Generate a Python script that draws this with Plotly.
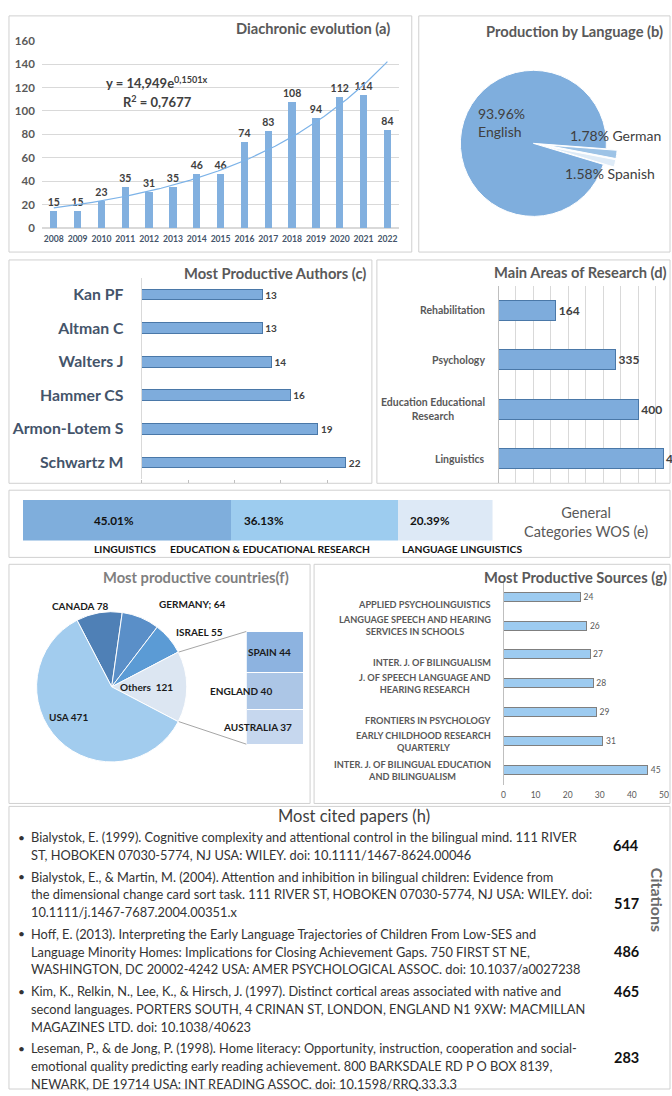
import numpy as np
import plotly.graph_objects as go

W, H = 672, 1096
FONT = "Lato, 'Open Sans', sans-serif"

# ---------------- data ----------------
years = list(range(2008, 2023))
publications = [15, 15, 23, 35, 31, 35, 46, 46, 74, 83, 108, 94, 112, 114, 84]
trend_coef = 14.949
trend_exp = 0.1501
trend_r2 = 0.7677

languages = ["German", "Spanish", "English"]
language_pct = [1.78, 1.58, 93.96]

authors = ["Kan PF", "Altman C", "Walters J", "Hammer CS", "Armon-Lotem S", "Schwartz M"]
author_docs = [13, 13, 14, 16, 19, 22]

areas = ["Rehabilitation", "Psychology", "Education Educational<br>Research", "Linguistics"]
area_docs = [164, 335, 400, 471]

wos_categories = ["LINGUISTICS", "EDUCATION & EDUCATIONAL RESEARCH", "LANGUAGE LINGUISTICS"]
wos_pct = [45.01, 36.13, 20.39]

countries = ["CANADA", "GERMANY", "ISRAEL", "Others", "USA"]
country_docs = [78, 64, 55, 121, 471]
country_labels = ["CANADA 78", "GERMANY; 64", "ISRAEL 55", "Others\u00a0 121", "USA 471"]
other_countries = ["AUSTRALIA", "ENGLAND", "SPAIN"]
other_docs = [37, 40, 44]

sources = ["APPLIED PSYCHOLINGUISTICS",
           "LANGUAGE SPEECH AND HEARING<br>SERVICES IN SCHOOLS",
           "INTER. J. OF BILINGUALISM",
           "J. OF SPEECH LANGUAGE AND<br>HEARING RESEARCH",
           "FRONTIERS IN PSYCHOLOGY",
           "EARLY CHILDHOOD RESEARCH<br>QUARTERLY",
           "INTER. J. OF BILINGUAL EDUCATION<br>AND BILINGUALISM"]
source_docs = [24, 26, 27, 28, 29, 31, 45]

papers = [
    ["Bialystok, E. (1999). Cognitive complexity and attentional control in the bilingual mind. 111 RIVER",
     "ST, HOBOKEN 07030-5774, NJ USA: WILEY. doi: 10.1111/1467-8624.00046"],
    ["Bialystok, E., & Martin, M. (2004). Attention and inhibition in bilingual children: Evidence from",
     "the dimensional change card sort task. 111 RIVER ST, HOBOKEN 07030-5774, NJ USA: WILEY. doi:",
     "10.1111/j.1467-7687.2004.00351.x"],
    ["Hoff, E. (2013). Interpreting the Early Language Trajectories of Children From Low-SES and",
     "Language Minority Homes: Implications for Closing Achievement Gaps. 750 FIRST ST NE,",
     "WASHINGTON, DC 20002-4242 USA: AMER PSYCHOLOGICAL ASSOC. doi: 10.1037/a0027238"],
    ["Kim, K., Relkin, N., Lee, K., & Hirsch, J. (1997). Distinct cortical areas associated with native and",
     "second languages. PORTERS SOUTH, 4 CRINAN ST, LONDON, ENGLAND N1 9XW: MACMILLAN",
     "MAGAZINES LTD. doi: 10.1038/40623"],
    ["Leseman, P., & de Jong, P. (1998). Home literacy: Opportunity, instruction, cooperation and social-",
     "emotional quality predicting early reading achievement. 800 BARKSDALE RD P O BOX 8139,",
     "NEWARK, DE 19714 USA: INT READING ASSOC. doi: 10.1598/RRQ.33.3.3"],
]
citations = [644, 517, 486, 465, 283]
citation_line = [0.5, 1.5, 1, 0, 0.5]   # which text line the number sits beside


# ---------------- helpers ----------------
def X(px):
    return px / W


def Y(py):
    return 1 - py / H


def xdom(a, b):
    return [a / W, b / W]


def ydom(top, bottom):
    return [1 - bottom / H, 1 - top / H]


def fnt(size, color="#595959", bold=False):
    return dict(family=FONT, size=size, color=color, weight="bold" if bold else "normal")


ann = []
shapes = []
TITLE = 14.7


def text(x, y, s, size, color="#595959", bold=False, xanchor="center", align="center", **kw):
    ann.append(dict(x=X(x), y=Y(y), xref="paper", yref="paper", text=s, showarrow=False,
                    font=fnt(size, color, bold), xanchor=xanchor, yanchor="middle", align=align, **kw))


fig = go.Figure()

# panel boxes
for x0, y0, x1, y1 in [(7, 9, 411, 248), (418, 9, 670, 248), (7, 256, 371, 482), (376, 256, 670, 482),
                       (7, 489, 670, 557), (7, 564, 309, 806), (313, 564, 670, 806), (7, 809, 670, 1095)]:
    shapes.append(dict(type="rect", xref="paper", yref="paper", x0=X(x0), x1=X(x1), y0=Y(y1), y1=Y(y0),
                       line=dict(color="#D0D0D0", width=1), layer="below"))

# ---------------- (a) Diachronic evolution ----------------
fig.add_trace(go.Bar(x=years, y=publications, width=0.31, marker=dict(color="#82B0DF", line=dict(width=0)),
                     text=publications, textposition="outside", constraintext="none",
                     textfont=fnt(10.5, "#404040", True), cliponaxis=False, xaxis="x", yaxis="y"))
t = np.linspace(1, len(years), 200)
fig.add_trace(go.Scatter(x=years[0] - 1 + t, y=trend_coef * np.exp(trend_exp * t), mode="lines",
                         line=dict(color="#7DB3E8", width=1.2), xaxis="x", yaxis="y"))
eq = "y = {}e<sup>{}x</sup>".format(f"{trend_coef:.3f}".replace(".", ","), f"{trend_exp:.4f}".replace(".", ","))
r2 = "R<sup>2</sup> = {}".format(f"{trend_r2:.4f}".replace(".", ","))
ann.append(dict(x=2012.35, y=124, xref="x", yref="y", text=eq, showarrow=False, font=fnt(13, "#404040", True)))
ann.append(dict(x=2012.35, y=108, xref="x", yref="y", text=r2, showarrow=False, font=fnt(13, "#404040", True)))
text(312, 21, "Diachronic evolution (a)", TITLE, bold=True)

# ---------------- (b) Production by language ----------------
pc_b = (533, 138)
half_b = 85
fig.add_trace(go.Pie(labels=languages, values=language_pct, sort=False, direction="clockwise", rotation=94.3,
                     pull=[0.15, 0.15, 0], textinfo="none", hoverinfo="label+percent",
                     marker=dict(colors=["#9DC3E6", "#DEEBF7", "#7FAEDD"], line=dict(color="white", width=1)),
                     domain=dict(x=xdom(pc_b[0] - half_b, pc_b[0] + half_b),
                                 y=ydom(pc_b[1] - half_b, pc_b[1] + half_b))))
text(574, 24, "Production by Language (b)", TITLE, bold=True)
text(475, 117, f"{language_pct[2]:.2f}%<br>{languages[2]}", 14, "#404040", xanchor="left", align="left")
text(568, 130, f"{language_pct[0]:.2f}% {languages[0]}", 14, "#404040", xanchor="left")
text(563, 169, f"{language_pct[1]:.2f}% {languages[1]}", 14, "#404040", xanchor="left")

# ---------------- (c) Most productive authors ----------------
fig.add_trace(go.Bar(x=author_docs, y=authors, orientation="h", width=0.32,
                     marker=dict(color="#7EACDC", line=dict(color="#4A78A8", width=1)),
                     text=author_docs, textposition="outside", constraintext="none",
                     textfont=fnt(10, "#404040", True), cliponaxis=False, xaxis="x2", yaxis="y2"))
text(367, 269, "Most Productive Authors (c)", TITLE, bold=True, xanchor="right")

# ---------------- (d) Main areas of research ----------------
fig.add_trace(go.Bar(x=area_docs, y=areas, orientation="h", width=0.4,
                     marker=dict(color="#7EACDC", line=dict(color="#4A78A8", width=1)),
                     text=area_docs, textposition="outside", constraintext="none",
                     textfont=fnt(12, "#404040", True), cliponaxis=False, xaxis="x3", yaxis="y3"))
for a in areas:
    ann.append(dict(x=X(486), y=a, xref="paper", yref="y3", text=a, showarrow=False, xanchor="right",
                    align="center", font=fnt(10.5, "#595959", True)))
text(580, 268, "Main Areas of Research (d)", TITLE, bold=True)

# ---------------- (e) General categories WOS ----------------
wos_colors = ["#7FAEDC", "#9DCCEF", "#DDE9F6"]
pad_e = [69, 11, 10]
start = 0
for cat, v, c, p in zip(wos_categories, wos_pct, wos_colors, pad_e):
    fig.add_trace(go.Bar(x=[v], y=[0], orientation="h", width=1, marker=dict(color=c, line=dict(width=0)),
                         xaxis="x4", yaxis="y4", name=cat))
    ann.append(dict(x=start, y=0, xref="x4", yref="y4", text=f"{v:.2f}%", showarrow=False, xanchor="left",
                    xshift=p, font=fnt(11.7, "#111111", True)))
    start += v
for cat, lx in zip(wos_categories, [90, 166, 399]):
    text(lx, 548, cat, 10.3, "#111111", bold=True, xanchor="left")
text(586, 521, "General<br>Categories WOS (e)", 14.5)

# ---------------- (f) Most productive countries ----------------
pc_f = (110, 688)
r_f = 76
total_f = sum(country_docs)
rot_f = 90 - (sum(country_docs[:3]) + country_docs[3] / 2) / total_f * 360
fig.add_trace(go.Pie(labels=countries, values=country_docs, sort=False, direction="clockwise", rotation=rot_f,
                     textinfo="none", hoverinfo="label+value",
                     marker=dict(colors=["#4F80B6", "#5A8FC8", "#5B9BD5", "#DCE6F2", "#A2CCEE"],
                                 line=dict(color="white", width=1)),
                     domain=dict(x=xdom(pc_f[0] - r_f, pc_f[0] + r_f), y=ydom(pc_f[1] - r_f, pc_f[1] + r_f))))
for lab, (lx, ly) in zip(country_labels, [(78, 606), (191, 604), (198, 632), (145, 688), (67, 719)]):
    text(lx, ly, lab, 10, "#1a1a1a", bold=True)

bar_f_x = (245, 302)
bar_f_y = (632, 746)
for name, v, c in zip(other_countries, other_docs, ["#C6D7EE", "#ACC6E6", "#8DB3E0"]):
    fig.add_trace(go.Bar(x=[0], y=[v], width=1, marker=dict(color=c, line=dict(color="white", width=1)),
                         xaxis="x5", yaxis="y5", name=name))
cum = 0
for name, v, sh in zip(other_countries, other_docs, [-17, -34, -5]):
    ann.append(dict(x=0, y=cum + v / 2, xref="x5", yref="y5", text=f"{name} {v}", showarrow=False,
                    xshift=sh, font=fnt(10, "#1a1a1a", True)))
    cum += v
half_ang = country_docs[3] / 2 / total_f * 2 * np.pi
for sgn, by in [(1, bar_f_y[0]), (-1, bar_f_y[1])]:
    px0 = pc_f[0] + r_f * np.cos(half_ang)
    py0 = pc_f[1] - sgn * r_f * np.sin(half_ang)
    shapes.append(dict(type="line", xref="paper", yref="paper", x0=X(px0), y0=Y(py0), x1=X(bar_f_x[0]),
                       y1=Y(by), line=dict(color="#A6A6A6", width=1)))
text(195, 577, "Most productive countries(f)", TITLE, "#7F7F7F", bold=True)

# ---------------- (g) Most productive sources ----------------
fig.add_trace(go.Bar(x=source_docs, y=sources, orientation="h", width=0.31,
                     marker=dict(color="#9DCBF0", line=dict(color="#7F7F7F", width=1)),
                     text=source_docs, textposition="outside", constraintext="none",
                     textfont=fnt(8.5, "#595959"), cliponaxis=False, xaxis="x6", yaxis="y6"))
for s in sources:
    nl = s.count("<br>")
    ann.append(dict(x=X(492), y=s, xref="paper", yref="y6", text=s, showarrow=False, xanchor="right",
                    align="center", yshift=-8 if nl == 0 else 0, font=fnt(9.2, "#595959", True)))
text(575, 577, "Most Productive Sources (g)", TITLE, bold=True)

# ---------------- (h) Most cited papers ----------------
text(353, 819, "Most cited papers (h)", 16.5, "#404040")
y0 = 840
for lines, cval, cl in zip(papers, citations, citation_line):
    text(14, y0, "\u2022", 12, "#333333", xanchor="left")
    for i, ln in enumerate(lines):
        text(27, y0 + 18 * i, ln, 12.8, "#333333", xanchor="left", align="left")
    text(626, y0 + 18 * cl, str(cval), 14.5, "#111111", bold=True)
    y0 += 18 * len(lines) + 4
ann.append(dict(x=X(657), y=Y(938), xref="paper", yref="paper", text="Citations", showarrow=False,
                textangle=90, xanchor="center", font=fnt(16, "#6B6B6B", True)))

# ---------------- layout ----------------
fig.update_layout(
    width=W, height=H, margin=dict(l=0, r=0, t=0, b=0), showlegend=False, barmode="stack",
    paper_bgcolor="white", plot_bgcolor="white", font=dict(family=FONT),
    xaxis=dict(domain=xdom(40, 398.5), range=[2007.5, 2022.5], tickvals=years, showgrid=False, zeroline=False,
               tickfont=fnt(8.6, "#44546A", True), ticklabelstandoff=4, anchor="y"),
    yaxis=dict(domain=ydom(34, 224), range=[0, 160], dtick=20, gridcolor="#D9D9D9", zeroline=True,
               zerolinecolor="#D9D9D9", tickfont=fnt(11.5, "#595959", True), ticklabelstandoff=6, anchor="x"),
    xaxis2=dict(domain=xdom(140, 370), range=[0, 24.7], dtick=5, showgrid=False, zeroline=False,
                showticklabels=False, ticks="outside", ticklen=3, tickcolor="#BFBFBF", anchor="y2"),
    yaxis2=dict(domain=ydom(274, 478), autorange="reversed", showline=True, linecolor="#D9D9D9",
                tickfont=fnt(15.8, "#44546A", True), ticklabelstandoff=14, anchor="x2"),
    xaxis3=dict(domain=xdom(498, 670), range=[0, 491], dtick=50, showgrid=True, gridcolor="#D9D9D9",
                zeroline=False, showticklabels=False, anchor="y3"),
    yaxis3=dict(domain=ydom(282, 482), autorange="reversed", showline=True, linecolor="#BFBFBF",
                showticklabels=False, anchor="x3"),
    xaxis4=dict(domain=xdom(21, 492), range=[0, sum(wos_pct)], visible=False, anchor="y4"),
    yaxis4=dict(domain=ydom(499, 540), range=[-0.5, 0.5], visible=False, anchor="x4"),
    xaxis5=dict(domain=xdom(*bar_f_x), range=[-0.5, 0.5], visible=False, anchor="y5"),
    yaxis5=dict(domain=ydom(*bar_f_y), range=[0, sum(other_docs)], visible=False, anchor="x5"),
    xaxis6=dict(domain=xdom(503, 670), range=[0, 51.9], dtick=10, showgrid=False, zeroline=False,
                tickfont=fnt(8.5, "#595959"), ticklabelstandoff=4, anchor="y6"),
    yaxis6=dict(domain=ydom(581, 787), autorange="reversed", showline=True, linecolor="#BFBFBF",
                showticklabels=False, anchor="x6"),
    annotations=ann, shapes=shapes,
)

fig.write_html("out.html", config={"displayModeBar": False},
               post_script="document.body.style.margin='0';document.body.style.overflow='hidden';")
